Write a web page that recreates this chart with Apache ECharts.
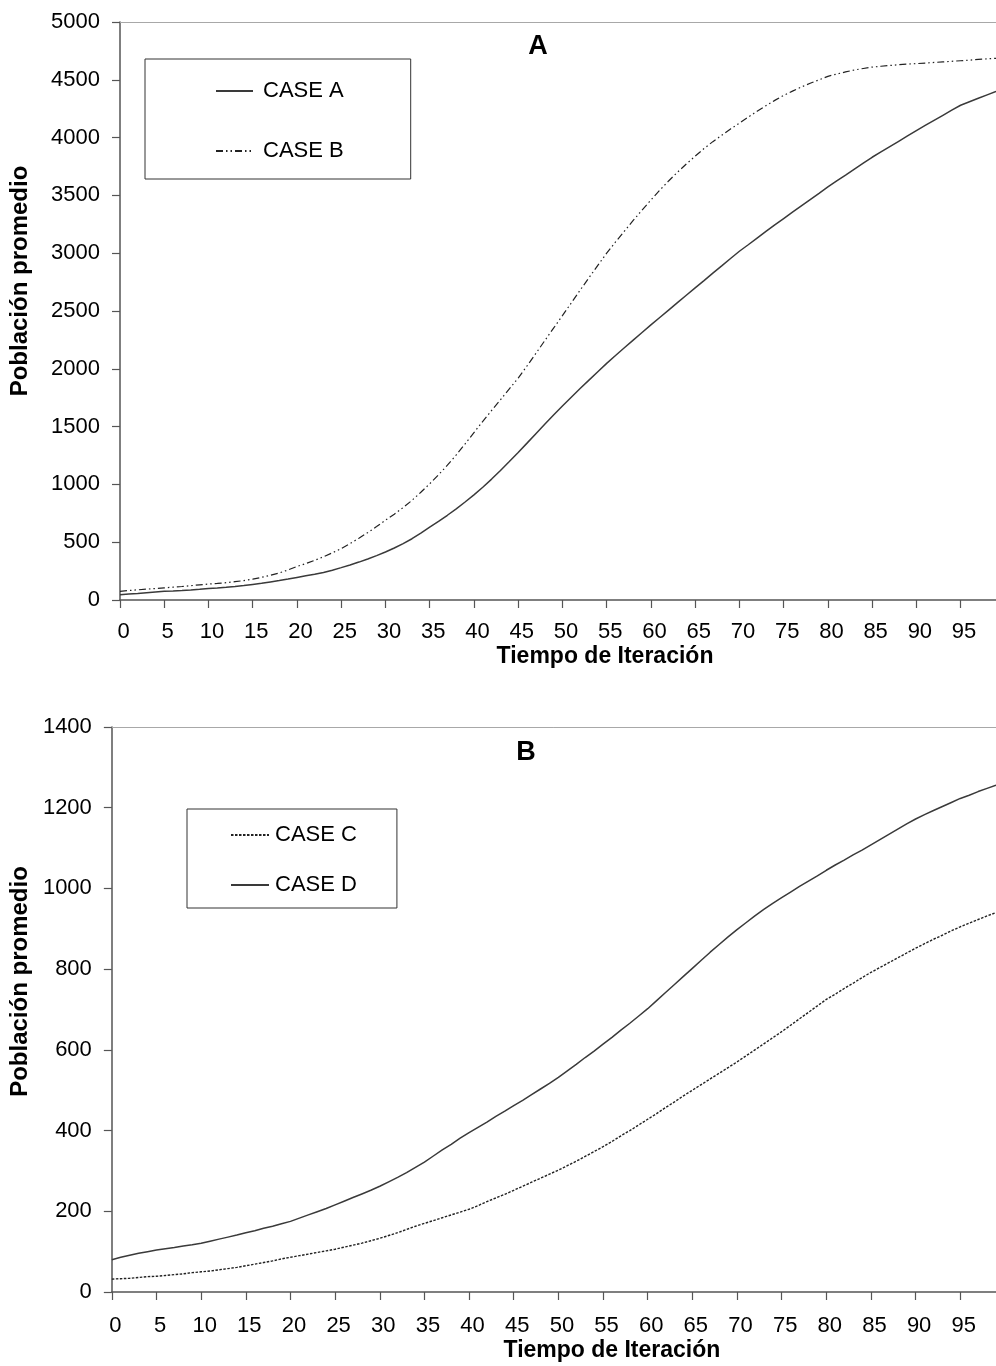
<!DOCTYPE html>
<html>
<head>
<meta charset="utf-8">
<script src="https://cdn.jsdelivr.net/npm/echarts@6/dist/echarts.min.js"></script>
<style>
html,body{margin:0;padding:0;background:#fff;}
#chart{width:996px;height:1366px;}
</style>
</head>
<body>
<div id="chart"></div>
<script>
// ---- data ----
const iterations = Array.from({length: 100}, (_, i) => String(i));

const caseA = [45,52,57,63,69,75,78,82,87,93,
  100,104,110,117,125,135,144,156,168,181,
  195,209,222,238,258,280,303,328,355,384,
  415,450,488,530,578,630,680,733,789,848,
  910,975,1046,1121,1198,1276,1357,1439,1520,1600,
  1678,1754,1829,1902,1975,2047,2115,2182,2248,2314,
  2380,2444,2508,2572,2636,2700,2763,2827,2890,2954,
  3017,3073,3131,3188,3245,3300,3355,3410,3464,3518,
  3573,3625,3676,3728,3779,3830,3876,3922,3968,4014,
  4060,4105,4149,4193,4237,4280,4310,4340,4370,4400];

const caseB = [75,82,88,94,99,105,111,117,124,131,
  138,143,150,159,168,180,196,214,234,260,
  290,315,343,374,408,445,488,535,583,635,
  690,742,800,862,932,1005,1083,1166,1255,1350,
  1448,1545,1640,1732,1826,1920,2025,2133,2243,2352,
  2460,2570,2680,2788,2895,3000,3097,3190,3283,3373,
  3460,3545,3625,3700,3772,3840,3905,3965,4020,4075,
  4125,4177,4228,4276,4322,4365,4402,4438,4470,4500,
  4530,4550,4568,4585,4598,4610,4617,4624,4630,4636,
  4640,4645,4650,4655,4660,4665,4670,4676,4681,4686];

const caseC = [32,33,34,36,38,39,41,43,45,48,
  50,52,55,58,61,65,69,73,77,82,
  86,90,94,98,102,106,111,116,121,127,
  133,140,147,155,163,170,177,184,191,198,
  205,214,224,233,242,252,262,272,282,292,
  302,313,324,336,348,360,373,387,400,414,
  428,442,457,471,486,500,514,528,542,556,
  570,585,600,615,630,645,661,677,693,709,
  725,738,752,765,779,792,804,816,828,840,
  852,863,874,884,895,905,914,923,932,940];

const caseD = [80,86,91,96,100,104,107,110,114,117,
  121,126,131,136,141,147,152,158,163,169,
  175,183,191,199,207,216,225,234,243,252,
  262,273,284,296,309,322,337,352,366,381,
  395,408,421,435,448,462,475,489,503,517,
  532,548,564,581,597,614,631,649,666,684,
  702,722,742,762,782,802,822,842,861,880,
  898,915,932,948,963,977,991,1005,1018,1031,
  1045,1058,1070,1083,1095,1108,1121,1134,1147,1160,
  1172,1183,1193,1203,1213,1223,1231,1240,1248,1256];

const seriesNames = ['CASE A', 'CASE B', 'CASE C', 'CASE D'];
const panelTitles = ['A', 'B'];
const xTitle = 'Tiempo de Iteración';
const yTitle = 'Población promedio';

// ---- chart ----
const FONT = '"Liberation Sans", Arial, sans-serif';
const axisColor = '#555555';

function xAxisFor(gridIndex, nameGap, namePad) {
  return {
    type: 'category', gridIndex, data: iterations, boundaryGap: false,
    axisLine: {show: true, lineStyle: {color: axisColor, width: 1.5}},
    axisTick: {show: true, interval: 4, length: 8, inside: false, lineStyle: {color: axisColor, width: 1.2}},
    axisLabel: {interval: 4, margin: gridIndex === 0 ? 21 : 23, fontFamily: FONT, fontSize: 22, color: '#000', padding: [0, 0, 0, 7]},
    splitLine: {show: false},
    name: xTitle, nameLocation: 'middle', nameGap,
    nameTextStyle: {fontFamily: FONT, fontSize: 23, fontWeight: 'bold', color: '#000', padding: [0, 0, 0, namePad]}
  };
}
function topAxisFor(gridIndex) {
  return {
    type: 'category', gridIndex, data: iterations, boundaryGap: false, position: 'top',
    axisLine: {show: true, lineStyle: {color: '#a8a8a8', width: 1}},
    axisTick: {show: false}, axisLabel: {show: false}, splitLine: {show: false}
  };
}
function yAxisFor(gridIndex, max, interval, nameGap, namePad) {
  return {
    type: 'value', gridIndex, min: 0, max, interval,
    axisLine: {show: true, lineStyle: {color: axisColor, width: 1.5}},
    axisTick: {show: true, length: 8, lineStyle: {color: axisColor, width: 1.2}},
    axisLabel: {margin: 20, fontFamily: FONT, fontSize: 22, color: '#000', formatter: v => String(v)},
    splitLine: {show: false},
    name: yTitle, nameLocation: 'middle', nameRotate: 90, nameGap,
    nameTextStyle: {fontFamily: FONT, fontSize: 24, fontWeight: 'bold', color: '#000', padding: [0, 0, 0, namePad]}
  };
}

const legendBase = {
  orient: 'vertical', borderColor: '#333', borderWidth: 1, selectedMode: false,
  itemHeight: 20,
  itemStyle: {color: 'rgba(0,0,0,0)', borderWidth: 0, opacity: 0},
  textStyle: {fontFamily: FONT, fontSize: 22, color: '#000', padding: [0, 0, 0, 5]}
};

const chart = echarts.init(document.getElementById('chart'), null, {renderer: 'canvas'});
chart.setOption({
  backgroundColor: '#ffffff',
  animation: false,
  title: [
    {text: panelTitles[0], left: 533, top: 28, textAlign: 'center',
     textStyle: {fontFamily: FONT, fontSize: 27, fontWeight: 'bold', color: '#000'}},
    {text: panelTitles[1], left: 521, top: 734, textAlign: 'center',
     textStyle: {fontFamily: FONT, fontSize: 27, fontWeight: 'bold', color: '#000'}}
  ],
  legend: [
    Object.assign({}, legendBase, {data: [seriesNames[0], seriesNames[1]], left: 145, top: 59,
      padding: [21, 67, 17, 70], itemGap: 38, itemWidth: 37}),
    Object.assign({}, legendBase, {data: [seriesNames[2], seriesNames[3]], left: 187, top: 809,
      padding: [15, 40, 12, 43], itemGap: 28, itemWidth: 38,
      textStyle: Object.assign({}, legendBase.textStyle, {padding: [0, 0, 0, 1]})})
  ],
  grid: [
    {left: 120, right: 0, top: 22, height: 578, containLabel: false},
    {left: 110, right: 0, top: 727, height: 565, containLabel: false}
  ],
  xAxis: [xAxisFor(0, 45, 94), xAxisFor(1, 47, 116), topAxisFor(0), topAxisFor(1)],
  yAxis: [yAxisFor(0, 5000, 500, 88, 60), yAxisFor(1, 1400, 200, 78, 56)],
  series: [
    {name: seriesNames[0], type: 'line', xAxisIndex: 0, yAxisIndex: 0, data: caseA, symbol: 'none',
     lineStyle: {color: '#3a3a3a', width: 1.5, type: 'solid'}, itemStyle: {color: '#3a3a3a'}},
    {name: seriesNames[1], type: 'line', xAxisIndex: 0, yAxisIndex: 0, data: caseB, symbol: 'none',
     lineStyle: {color: '#222222', width: 1.2, type: [7, 3, 1.5, 3, 1.5, 3]}, itemStyle: {color: '#222222'}},
    {name: seriesNames[2], type: 'line', xAxisIndex: 1, yAxisIndex: 1, data: caseC, symbol: 'none',
     lineStyle: {color: '#222222', width: 1.4, type: [2.5, 1.5]}, itemStyle: {color: '#222222'}},
    {name: seriesNames[3], type: 'line', xAxisIndex: 1, yAxisIndex: 1, data: caseD, symbol: 'none',
     lineStyle: {color: '#3a3a3a', width: 1.5, type: 'solid'}, itemStyle: {color: '#3a3a3a'}}
  ]
});
</script>
</body>
</html>
